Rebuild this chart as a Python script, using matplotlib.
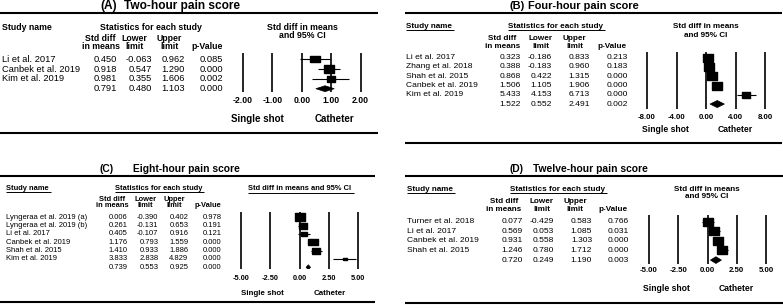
import matplotlib
matplotlib.use("Agg")
import matplotlib.pyplot as plt
from matplotlib.patches import Polygon
import numpy as np

plt.rcParams['font.family'] = ['Liberation Sans', 'DejaVu Sans']

# ---------------- data ----------------
a_studies = ["Li et al. 2017", "Canbek et al. 2019", "Kim et al. 2019"]
a_smd = [0.450, 0.918, 0.981]
a_lower = [-0.063, 0.547, 0.355]
a_upper = [0.962, 1.290, 1.606]
a_p = [0.085, 0.000, 0.002]
a_weight = [33, 46, 21]
a_pooled = [0.791, 0.480, 1.103, 0.000]
a_ticks = [-2.0, -1.0, 0.0, 1.0, 2.0]

b_studies = ["Li et al. 2017", "Zhang et al. 2018", "Shah et al. 2015",
             "Canbek et al. 2019", "Kim et al. 2019"]
b_smd = [0.323, 0.388, 0.868, 1.506, 5.433]
b_lower = [-0.186, -0.183, 0.422, 1.105, 4.153]
b_upper = [0.833, 0.960, 1.315, 1.906, 6.713]
b_p = [0.213, 0.183, 0.000, 0.000, 0.000]
b_weight = [21, 19, 22, 22, 16]
b_pooled = [1.522, 0.552, 2.491, 0.002]
b_ticks = [-8.0, -4.0, 0.0, 4.0, 8.0]

c_studies = ["Lyngeraa et al. 2019 (a)", "Lyngeraa et al. 2019 (b)", "Li et al. 2017",
             "Canbek et al. 2019", "Shah et al. 2015", "Kim et al. 2019"]
c_smd = [0.006, 0.261, 0.405, 1.176, 1.410, 3.833]
c_lower = [-0.390, -0.131, -0.107, 0.793, 0.933, 2.838]
c_upper = [0.402, 0.653, 0.916, 1.559, 1.886, 4.829]
c_p = [0.978, 0.191, 0.121, 0.000, 0.000, 0.000]
c_weight = [25, 20, 11, 22, 18, 4]
c_pooled = [0.739, 0.553, 0.925, 0.000]
c_ticks = [-5.0, -2.5, 0.0, 2.5, 5.0]

d_studies = ["Turner et al. 2018", "Li et al. 2017", "Canbek et al. 2019", "Shah et al. 2015"]
d_smd = [0.077, 0.569, 0.931, 1.246]
d_lower = [-0.429, 0.053, 0.558, 0.780]
d_upper = [0.583, 1.085, 1.303, 1.712]
d_p = [0.766, 0.031, 0.000, 0.000]
d_weight = [26, 24, 24, 26]
d_pooled = [0.720, 0.249, 1.190, 0.003]
d_ticks = [-5.0, -2.5, 0.0, 2.5, 5.0]

panel_letters = ["A", "B", "C", "D"]
panel_titles = ["Two-hour pain score", "Four-hour pain score",
                "Eight-hour pain score", "Twelve-hour pain score"]
col_head1 = ["Std diff", "Lower", "Upper", ""]
col_head2 = ["in means", "limit", "limit", "p-Value"]
left_label = "Single shot"
right_label = "Catheter"

# ---------------- layout (pixels) ----------------
W, H = 783, 308
LAYOUT = {
    "A": dict(x0=0, x1=378, rule_top=13, rule_bot=133, letter_x=100, title_x=124, title_y=5.8,
              fs_title=8.6, fs_head=6.3, fs_body=6.7, fs_tick=6.2, fs_lab=7.0,
              name_x=2, head_y=27, stats_cx=151, ch_y=(38.8, 46.6), ch_cx=[100.5, 134.5, 169.5, 207],
              val_r=[117, 152, 185, 223], row_y0=59.3, row_dy=9.8,
              px_min=242.7, px_max=360.7, line_top=53, line_bot=92, tick_y=101,
              lab_y=119, lab_l=257, lab_r=334, fh_cx=302, fh_y=(27, 35), fh_one=False,
              underline=False, box_k=1.58, dia_h=0.3),
    "B": dict(x0=405, x1=782, rule_top=13, rule_bot=143, letter_x=510, title_x=528, title_y=5.8,
              fs_title=7.9, fs_head=5.9, fs_body=6.1, fs_tick=5.7, fs_lab=6.2,
              name_x=406, head_y=26, stats_cx=555, ch_y=(38.3, 46), ch_cx=[502.5, 540.5, 574.5, 611.5],
              val_r=[520.7, 551.7, 590, 627.7], row_y0=57.7, row_dy=9.27,
              px_min=647, px_max=765, line_top=52.3, line_bot=109.3, tick_y=118.7,
              lab_y=130, lab_l=665, lab_r=735.5, fh_cx=706, fh_y=(26.7, 35.7), fh_one=False,
              underline=True, box_k=2.2, dia_h=0.38),
    "C": dict(x0=0, x1=375, rule_top=176, rule_bot=301.5, letter_x=100, title_x=133, title_y=168.5,
              fs_title=7.4, fs_head=5.4, fs_body=5.5, fs_tick=5.3, fs_lab=5.7,
              name_x=6, head_y=188, stats_cx=158.5, ch_y=(199.3, 205.7), ch_cx=[112, 145.5, 174.5, 208],
              val_r=[127.3, 158.3, 188.3, 221.7], row_y0=217.3, row_dy=8.33,
              px_min=241, px_max=358.3, line_top=211.7, line_bot=269.3, tick_y=278.7,
              lab_y=293.3, lab_l=262.5, lab_r=329.5, fh_cx=300, fh_y=(189,), fh_one=True,
              underline=True, box_k=2.0, dia_h=0.3),
    "D": dict(x0=405, x1=783, rule_top=176, rule_bot=303, letter_x=510, title_x=533, title_y=168.8,
              fs_title=7.4, fs_head=5.9, fs_body=6.1, fs_tick=5.7, fs_lab=6.2,
              name_x=407, head_y=189.3, stats_cx=557, ch_y=(201.7, 209.3), ch_cx=[504, 541.5, 575, 612.5],
              val_r=[523, 554, 592, 629], row_y0=221.7, row_dy=9.6,
              px_min=649, px_max=766, line_top=215, line_bot=264, tick_y=271,
              lab_y=288.3, lab_l=666.7, lab_r=736.5, fh_cx=707, fh_y=(189.5, 197), fh_one=False,
              underline=True, box_k=2.08, dia_h=0.35),
}

fig = plt.figure(figsize=(W / 100, H / 100), dpi=100)
ov = fig.add_axes([0, 0, 1, 1])
ov.set_xlim(0, W)
ov.set_ylim(H, 0)
ov.axis("off")

rect_marker = [(-1.35, -1), (1.35, -1), (1.35, 1), (-1.35, 1), (-1.35, -1)]
underline_texts = []


def draw_panel(letter, title, studies, smd, lo, hi, p, weight, pooled, ticks):
    L = LAYOUT[letter]
    bold = dict(fontweight="bold")
    # title and rules
    ov.text(L["letter_x"], L["title_y"], f"({letter})", fontsize=L["fs_title"], va="center", **bold)
    ov.text(L["title_x"], L["title_y"], title, fontsize=L["fs_title"], va="center", **bold)
    for y in (L["rule_top"], L["rule_bot"]):
        ov.plot([L["x0"], L["x1"]], [y, y], color="black", lw=1.5, solid_capstyle="butt")
    # table headers
    t1 = ov.text(L["name_x"], L["head_y"], "Study name", fontsize=L["fs_head"], va="center", **bold)
    t2 = ov.text(L["stats_cx"], L["head_y"], "Statistics for each study", fontsize=L["fs_head"],
                 ha="center", va="center", **bold)
    if L["underline"]:
        underline_texts.extend([t1, t2])
    for cx, h1, h2 in zip(L["ch_cx"], col_head1, col_head2):
        if h1:
            ov.text(cx, L["ch_y"][0], h1, fontsize=L["fs_head"], ha="center", va="center", **bold)
        ov.text(cx, L["ch_y"][1], h2, fontsize=L["fs_head"], ha="center", va="center", **bold)
    # rows
    n = len(studies)
    for i in range(n + 1):
        y = L["row_y0"] + i * L["row_dy"]
        if i < n:
            ov.text(L["name_x"], y, studies[i], fontsize=L["fs_body"], va="center")
            vals = [smd[i], lo[i], hi[i], p[i]]
        else:
            vals = pooled
        for xr, v in zip(L["val_r"], vals):
            ov.text(xr, y, f"{v:.3f}", fontsize=L["fs_body"], ha="right", va="center")
    # forest header
    if L["fh_one"]:
        t3 = ov.text(L["fh_cx"], L["fh_y"][0], "Std diff in means and 95% CI", fontsize=L["fs_head"],
                     ha="center", va="center", **bold)
        underline_texts.append(t3)
    else:
        ov.text(L["fh_cx"], L["fh_y"][0], "Std diff in means", fontsize=L["fs_head"],
                ha="center", va="center", **bold)
        ov.text(L["fh_cx"], L["fh_y"][1], "and 95% CI", fontsize=L["fs_head"],
                ha="center", va="center", **bold)
    ov.text(L["lab_l"], L["lab_y"], left_label, fontsize=L["fs_lab"], ha="center", va="center", **bold)
    ov.text(L["lab_r"], L["lab_y"], right_label, fontsize=L["fs_lab"], ha="center", va="center", **bold)

    # forest axes
    scale = (L["px_max"] - L["px_min"]) / (ticks[-1] - ticks[0])
    padpx = 3
    m = padpx / scale
    left = L["px_min"] - padpx
    width = L["px_max"] - L["px_min"] + 2 * padpx
    ax = fig.add_axes([left / W, 1 - L["line_bot"] / H, width / W, (L["line_bot"] - L["line_top"]) / H])
    ax.set_xlim(ticks[0] - m, ticks[-1] + m)
    ax.set_ylim((L["line_bot"] - L["row_y0"]) / L["row_dy"], (L["line_top"] - L["row_y0"]) / L["row_dy"])
    ax.patch.set_alpha(0)
    for s in ax.spines.values():
        s.set_visible(False)
    ax.set_yticks([])
    ax.set_xticks(ticks)
    ax.set_xticklabels([f"{t:.2f}" for t in ticks], fontsize=L["fs_tick"], fontweight="bold")
    fs_px = L["fs_tick"] * 100 / 72
    pad_pt = max(0.0, (L["tick_y"] - L["line_bot"]) - 0.55 * fs_px) * 0.72
    ax.tick_params(axis="x", length=0, pad=pad_pt)
    ax.grid(axis="x", color="black", lw=1.2)
    ax.set_axisbelow(True)

    rows = np.arange(n)
    ax.hlines(rows, lo, hi, color="black", lw=0.8)
    sizes = L["box_k"] * np.sqrt(np.array(weight, dtype=float)) * 0.72
    for r, e, s in zip(rows, smd, sizes):
        ax.plot([e], [r], marker=rect_marker, ms=s, color="black", ls="none")
    est, plo, phi = pooled[0], pooled[1], pooled[2]
    h = L["dia_h"]
    ax.add_patch(Polygon([(plo, n), (est, n - h), (phi, n), (est, n + h)], closed=True,
                         facecolor="black", edgecolor="black", lw=0.5))


draw_panel("A", panel_titles[0], a_studies, a_smd, a_lower, a_upper, a_p, a_weight, a_pooled, a_ticks)
draw_panel("B", panel_titles[1], b_studies, b_smd, b_lower, b_upper, b_p, b_weight, b_pooled, b_ticks)
draw_panel("C", panel_titles[2], c_studies, c_smd, c_lower, c_upper, c_p, c_weight, c_pooled, c_ticks)
draw_panel("D", panel_titles[3], d_studies, d_smd, d_lower, d_upper, d_p, d_weight, d_pooled, d_ticks)

# underlines
fig.canvas.draw()
renderer = fig.canvas.get_renderer()
for t in underline_texts:
    bb = t.get_window_extent(renderer)
    y = H - bb.y0 + 0.3
    ov.plot([bb.x0, bb.x1 + 2], [y, y], color="black", lw=0.7, solid_capstyle="butt")

fig.savefig("out.png", dpi=100)
